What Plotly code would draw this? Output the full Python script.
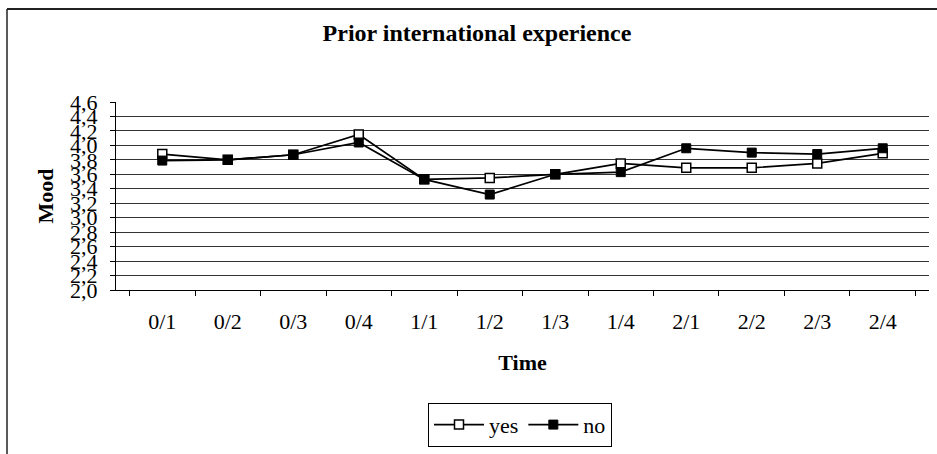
import plotly.graph_objects as go

# Measurement points (phase/week)
time_points = ["0/1", "0/2", "0/3", "0/4", "1/1", "1/2", "1/3", "1/4",
               "2/1", "2/2", "2/3", "2/4"]

# Mean mood by prior international experience
mood_yes = [3.88, 3.80, 3.87, 4.15, 3.53, 3.55, 3.60, 3.75, 3.69, 3.69, 3.75, 3.89]
mood_no = [3.79, 3.80, 3.87, 4.04, 3.53, 3.32, 3.60, 3.63, 3.96, 3.90, 3.88, 3.96]

W, H = 937, 454
ML, MR, MT, MB = 116, 8, 102, 162
PW, PH = W - ML - MR, H - MT - MB

FONT = "Liberation Serif, Times New Roman, serif"

fig = go.Figure()
fig.add_trace(go.Scatter(
    x=time_points, y=mood_yes, name="yes", mode="lines+markers",
    line=dict(color="black", width=1.7),
    marker=dict(symbol="square", size=9, color="white",
                line=dict(color="black", width=1.5)),
))
fig.add_trace(go.Scatter(
    x=time_points, y=mood_no, name="no", mode="lines+markers",
    line=dict(color="black", width=1.7),
    marker=dict(symbol="square", size=9, color="black",
                line=dict(color="black", width=1)),
))

# Chart-area frame (open on the right and bottom edges)
def px_x(p):
    return (p - ML) / PW

def px_y(p):
    return (H - MB - p) / PH

fig.add_shape(type="line", xref="paper", yref="paper",
              x0=px_x(7), x1=px_x(W + 5), y0=px_y(8), y1=px_y(8),
              line=dict(color="#222", width=2))
fig.add_shape(type="line", xref="paper", yref="paper",
              x0=px_x(7), x1=px_x(7), y0=px_y(8), y1=px_y(H + 5),
              line=dict(color="#222", width=1.5))

fig.update_layout(
    width=W, height=H,
    margin=dict(l=ML, r=MR, t=MT, b=MB),
    paper_bgcolor="white", plot_bgcolor="white",
    separators=",.",
    font=dict(family=FONT, size=22, color="black"),
    title=dict(text="<b>Prior international experience</b>",
               x=477 / W, xref="container", xanchor="center",
               y=1 - 33 / H, yref="container", yanchor="middle",
               font=dict(family=FONT, size=24, color="black")),
    showlegend=True,
    legend=dict(orientation="h", x=px_x(520), xanchor="center",
                y=px_y(406), yanchor="top",
                bordercolor="black", borderwidth=1,
                font=dict(family=FONT, size=22, color="black"),
                itemwidth=50, tracegroupgap=0),
)

fig.update_xaxes(
    type="category", tickson="boundaries",
    ticks="outside", ticklen=5, tickcolor="black", tickwidth=1,
    showline=True, linecolor="black", linewidth=1,
    showgrid=False, ticklabelstandoff=12,
    tickfont=dict(family=FONT, size=22, color="black"),
    title=dict(text="<b>Time</b>", standoff=21,
               font=dict(family=FONT, size=22, color="black")),
)

fig.update_yaxes(
    range=[2.0, 4.6], dtick=0.2, tick0=2.0, tickformat=".1f",
    ticks="outside", ticklen=5, tickcolor="black", tickwidth=1,
    showline=True, linecolor="black", linewidth=1,
    showgrid=True, gridcolor="#333", gridwidth=1,
    ticklabelstandoff=8,
    tickfont=dict(family=FONT, size=22, color="black"),
    title=dict(text="<b>Mood</b>", standoff=10,
               font=dict(family=FONT, size=22, color="black")),
)

fig.write_html("out.html")
